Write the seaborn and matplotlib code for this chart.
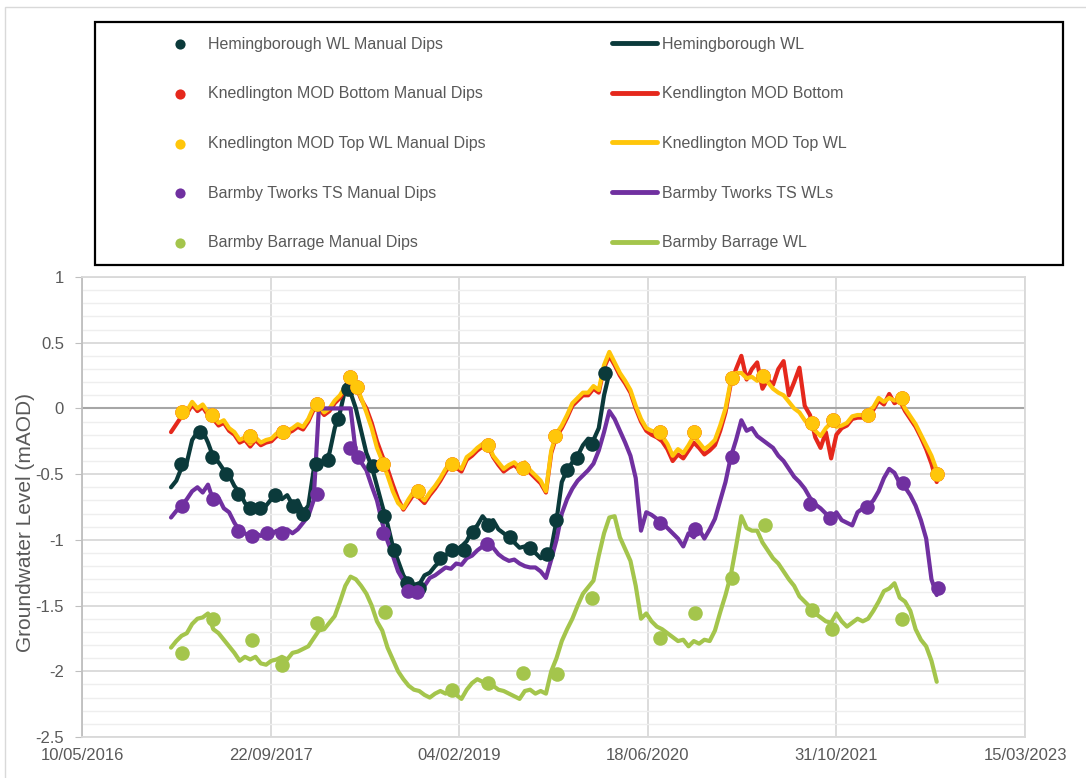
"""
Níveis de água subterrânea (mAOD) - séries contínuas e medições manuais.
Salva o gráfico em out.png
"""

import pandas as pd
import matplotlib
matplotlib.use("Agg")
import matplotlib.pyplot as plt
import matplotlib.dates as mdates
from matplotlib.ticker import MultipleLocator, FuncFormatter
from matplotlib.patches import Rectangle
import seaborn as sns

# Séries contínuas: uma leitura a cada 14 dias a partir de 01/01/2017
inicio = "2017-01-01"
passo = "14D"

hem_wl = [
    -0.60, -0.55, -0.45, -0.41, -0.24, -0.18, -0.17, -0.26, -0.37, -0.41,
    -0.47, -0.51, -0.59, -0.64, -0.72, -0.76, -0.74, -0.78, -0.74, -0.69,
    -0.65, -0.69, -0.66, -0.73, -0.70, -0.79, -0.74, -0.47, -0.41, -0.40,
    -0.34, -0.15, -0.03, 0.15, 0.12, 0.00, -0.17, -0.34, -0.44, -0.59,
    -0.74, -0.88, -1.05, -1.16, -1.27, -1.33, -1.34, -1.34, -1.27, -1.25,
    -1.20, -1.16, -1.12, -1.07, -1.08, -1.05, -1.01, -0.93, -0.89, -0.82,
    -0.87, -0.85, -0.92, -0.95, -0.98, -1.02, -1.06, -1.05, -1.08, -1.10,
    -1.14, -1.12, -1.07, -0.85, -0.56, -0.47, -0.41, -0.36, -0.28, -0.23,
    -0.24, -0.15, 0.10, 0.27,
]

kb_wl = [
    -0.18, -0.12, -0.06, -0.04, 0.03, -0.02, 0.01, -0.05, -0.08, -0.13,
    -0.11, -0.17, -0.20, -0.26, -0.24, -0.29, -0.24, -0.28, -0.26, -0.25,
    -0.21, -0.21, -0.19, -0.17, -0.14, -0.16, -0.10, -0.01, 0.00, -0.05,
    -0.02, 0.04, 0.08, 0.15, 0.21, 0.17, 0.07, 0.00, -0.11, -0.25,
    -0.36, -0.46, -0.58, -0.69, -0.77, -0.71, -0.65, -0.68, -0.72, -0.66,
    -0.61, -0.55, -0.48, -0.43, -0.45, -0.48, -0.39, -0.36, -0.32, -0.29,
    -0.28, -0.37, -0.43, -0.48, -0.45, -0.43, -0.47, -0.43, -0.49, -0.53,
    -0.57, -0.64, -0.34, -0.21, -0.15, -0.07, 0.02, 0.06, 0.10, 0.10,
    0.15, 0.12, 0.31, 0.40, 0.33, 0.25, 0.19, 0.12, 0.00, -0.10,
    -0.17, -0.20, -0.22, -0.25, -0.31, -0.40, -0.35, -0.38, -0.32, -0.26,
    -0.30, -0.35, -0.32, -0.28, -0.17, -0.03, 0.19, 0.30, 0.40, 0.22,
    0.30, 0.35, 0.15, 0.22, 0.18, 0.30, 0.36, 0.10, 0.20, 0.31,
    0.02, -0.05, -0.22, -0.30, -0.18, -0.38, -0.20, -0.15, -0.13, -0.08,
    -0.07, -0.07, -0.04, -0.01, 0.06, 0.03, 0.11, 0.04, 0.06, -0.02,
    -0.08, -0.14, -0.22, -0.31, -0.42, -0.56,
]

kt_wl = [
    None, None, -0.03, -0.02, 0.05, 0.00, 0.03, -0.03, -0.06, -0.11,
    -0.09, -0.15, -0.18, -0.24, -0.22, -0.27, -0.22, -0.26, -0.24, -0.23,
    -0.19, -0.19, -0.17, -0.15, -0.12, -0.14, -0.08, 0.01, 0.02, -0.03,
    0.00, 0.06, 0.10, 0.17, 0.23, 0.18, 0.08, -0.03, -0.15, -0.30,
    -0.40, -0.51, -0.63, -0.72, -0.76, -0.69, -0.63, -0.66, -0.70, -0.64,
    -0.59, -0.53, -0.46, -0.41, -0.43, -0.46, -0.37, -0.34, -0.30, -0.27,
    -0.26, -0.36, -0.41, -0.46, -0.43, -0.41, -0.45, -0.41, -0.47, -0.51,
    -0.55, -0.63, -0.32, -0.19, -0.13, -0.05, 0.04, 0.08, 0.12, 0.12,
    0.17, 0.14, 0.33, 0.43, 0.35, 0.27, 0.21, 0.14, 0.02, -0.08,
    -0.15, -0.17, -0.18, -0.21, -0.27, -0.36, -0.31, -0.34, -0.28, -0.21,
    -0.26, -0.31, -0.28, -0.24, -0.13, 0.00, 0.21, 0.27, 0.27, 0.23,
    0.24, 0.21, 0.27, 0.20, 0.15, 0.12, 0.10, 0.05, 0.00, -0.03,
    -0.09, -0.14, -0.17, -0.21, -0.15, -0.11, -0.14, -0.13, -0.11, -0.06,
    -0.05, -0.05, -0.02, 0.01, 0.08, 0.05, 0.08, 0.06, 0.08, 0.00,
    -0.06, -0.12, -0.20, -0.28, -0.36, -0.47,
]

bt_wl = [
    -0.83, -0.78, -0.74, -0.69, -0.63, -0.60, -0.64, -0.58, -0.70, -0.68,
    -0.76, -0.79, -0.87, -0.93, -0.95, -0.98, -0.95, -0.97, -0.95, -0.96,
    -0.93, -0.95, -0.92, -0.95, -0.92, -0.87, -0.82, -0.70, 0.00, 0.00,
    0.00, 0.00, 0.00, 0.00, 0.00, -0.34, -0.41, -0.47, -0.59, -0.70,
    -0.87, -1.01, -1.12, -1.24, -1.31, -1.37, -1.40, -1.39, -1.35, -1.29,
    -1.27, -1.24, -1.21, -1.22, -1.18, -1.19, -1.14, -1.12, -1.08, -1.05,
    -1.01, -1.06, -1.11, -1.14, -1.16, -1.15, -1.18, -1.20, -1.21, -1.21,
    -1.24, -1.29, -1.15, -1.00, -0.80, -0.69, -0.61, -0.55, -0.51, -0.47,
    -0.42, -0.32, -0.18, -0.02, -0.08, -0.17, -0.26, -0.36, -0.53, -0.93,
    -0.79, -0.81, -0.84, -0.87, -0.91, -0.95, -0.99, -1.05, -0.95, -0.98,
    -0.92, -0.99, -0.92, -0.84, -0.70, -0.56, -0.37, -0.24, -0.09, -0.17,
    -0.15, -0.21, -0.24, -0.27, -0.30, -0.36, -0.40, -0.46, -0.52, -0.56,
    -0.61, -0.68, -0.73, -0.76, -0.80, -0.84, -0.79, -0.85, -0.87, -0.89,
    -0.79, -0.76, -0.74, -0.70, -0.63, -0.53, -0.46, -0.49, -0.57, -0.60,
    -0.66, -0.74, -0.85, -0.99, -1.30, -1.42,
]

bb_wl = [
    -1.82, -1.77, -1.73, -1.71, -1.64, -1.60, -1.59, -1.56, -1.68, -1.71,
    -1.76, -1.81, -1.86, -1.92, -1.89, -1.91, -1.89, -1.94, -1.95, -1.92,
    -1.91, -1.89, -1.91, -1.86, -1.85, -1.83, -1.81, -1.75, -1.69, -1.68,
    -1.63, -1.58, -1.47, -1.35, -1.28, -1.30, -1.35, -1.41, -1.50, -1.62,
    -1.69, -1.82, -1.91, -2.00, -2.06, -2.11, -2.14, -2.15, -2.18, -2.20,
    -2.17, -2.15, -2.17, -2.14, -2.18, -2.21, -2.14, -2.09, -2.06, -2.08,
    -2.10, -2.11, -2.14, -2.15, -2.17, -2.19, -2.21, -2.15, -2.14, -2.17,
    -2.15, -2.17, -2.00, -1.90, -1.77, -1.68, -1.60, -1.50, -1.41, -1.36,
    -1.31, -1.12, -0.95, -0.83, -0.82, -0.98, -1.07, -1.16, -1.35, -1.60,
    -1.56, -1.62, -1.66, -1.68, -1.71, -1.74, -1.77, -1.76, -1.81, -1.77,
    -1.79, -1.76, -1.77, -1.69, -1.55, -1.42, -1.27, -1.05, -0.82, -0.91,
    -0.93, -0.93, -1.02, -1.08, -1.14, -1.18, -1.24, -1.30, -1.35, -1.43,
    -1.47, -1.51, -1.56, -1.59, -1.62, -1.63, -1.56, -1.62, -1.66, -1.63,
    -1.60, -1.62, -1.60, -1.54, -1.47, -1.39, -1.37, -1.33, -1.44, -1.47,
    -1.54, -1.68, -1.76, -1.81, -1.92, -2.08,
]

# Medições manuais (dips)
hem_dip_datas = [
    "2017-01-27", "2017-03-19", "2017-04-20", "2017-05-27", "2017-06-28",
    "2017-07-29", "2017-08-25", "2017-10-04", "2017-11-20", "2017-12-17",
    "2018-01-20", "2018-02-21", "2018-03-20", "2018-04-15", "2018-06-20",
    "2018-07-20", "2018-08-15", "2018-09-19", "2018-10-20", "2018-12-15",
    "2019-01-16", "2019-02-17", "2019-03-13", "2019-04-21", "2019-06-19",
    "2019-08-11", "2019-09-25", "2019-10-19", "2019-11-17", "2019-12-13",
    "2020-01-22", "2020-02-25",
]
hem_dip = [
    -0.42, -0.18, -0.37, -0.50, -0.65, -0.76, -0.76, -0.66, -0.74, -0.80,
    -0.42, -0.39, -0.08, 0.15, -0.44, -0.82, -1.08, -1.33, -1.37, -1.14,
    -1.08, -1.08, -0.94, -0.89, -0.98, -1.06, -1.11, -0.85, -0.47, -0.38,
    -0.27, 0.27,
]

kt_dip_datas = [
    "2017-01-30", "2017-04-20", "2017-07-29", "2017-10-25", "2018-01-23",
    "2018-04-21", "2018-05-09", "2018-07-17", "2018-10-18", "2019-01-16",
    "2019-04-21", "2019-07-23", "2019-10-16", "2020-07-20", "2020-10-18",
    "2021-01-27", "2021-04-19", "2021-08-27", "2021-10-22", "2022-01-23",
    "2022-04-23", "2022-07-25",
]
kt_dip = [
    -0.03, -0.05, -0.21, -0.18, 0.03, 0.24, 0.16, -0.42, -0.63, -0.42,
    -0.28, -0.45, -0.21, -0.18, -0.18, 0.23, 0.25, -0.11, -0.09, -0.05,
    0.08, -0.50,
]
# os dips do MOD Bottom ficam escondidos sob os do MOD Top
kb_dip_datas = kt_dip_datas
kb_dip = kt_dip

bt_dip_datas = [
    "2017-01-30", "2017-04-22", "2017-06-28", "2017-08-04", "2017-09-12",
    "2017-10-22", "2018-01-23", "2018-04-21", "2018-05-12", "2018-07-17",
    "2018-09-21", "2018-10-15", "2019-04-19", "2020-07-20", "2020-10-21",
    "2021-01-27", "2021-08-22", "2021-10-14", "2022-01-20", "2022-04-25",
    "2022-07-27",
]
bt_dip = [
    -0.74, -0.69, -0.93, -0.97, -0.95, -0.95, -0.65, -0.30, -0.37, -0.95,
    -1.39, -1.40, -1.03, -0.87, -0.92, -0.37, -0.73, -0.83, -0.75, -0.57,
    -1.37,
]

bb_dip_datas = [
    "2017-01-30", "2017-04-22", "2017-08-04", "2017-10-22", "2018-01-23",
    "2018-04-21", "2018-07-22", "2019-01-16", "2019-04-21", "2019-07-23",
    "2019-10-21", "2020-01-22", "2020-07-20", "2020-10-21", "2021-01-27",
    "2021-04-25", "2021-08-27", "2021-10-19", "2022-04-23",
]
bb_dip = [
    -1.86, -1.60, -1.76, -1.95, -1.63, -1.08, -1.55, -2.14, -2.09, -2.01,
    -2.02, -1.44, -1.75, -1.56, -1.29, -0.89, -1.53, -1.68, -1.60,
]

datas_eixo = ["2016-05-10", "2017-09-22", "2019-02-04", "2020-06-18", "2021-10-31", "2023-03-15"]

# Cores das estações
c_hem = "#0b3a3b"
c_kb = "#e5281c"
c_kt = "#ffc60a"
c_bt = "#7030a0"
c_bb = "#a4c54c"

sns.set_style("white")
plt.rcParams["font.family"] = ["Liberation Sans", "DejaVu Sans"]

fig = plt.figure(figsize=(10.86, 7.78), dpi=100)
ax = fig.add_axes([82 / 1086, 41 / 778, 943 / 1086, 460 / 778])


def serie(valores):
    return pd.DataFrame({
        "data": pd.date_range(inicio, periods=len(valores), freq=passo),
        "nivel": pd.to_numeric(pd.Series(valores, dtype="float")),
    })


linhas = [
    (hem_wl, "Hemingborough WL", c_hem),
    (kb_wl, "Kendlington MOD Bottom", c_kb),
    (kt_wl, "Knedlington MOD Top WL", c_kt),
    (bt_wl, "Barmby Tworks TS WLs", c_bt),
    (bb_wl, "Barmby Barrage WL", c_bb),
]
for valores, nome, cor in linhas:
    sns.lineplot(data=serie(valores), x="data", y="nivel", color=cor, linewidth=3.0,
                 label=nome, estimator=None, ax=ax, zorder=2)

pontos = [
    (hem_dip_datas, hem_dip, "Hemingborough WL Manual Dips", c_hem),
    (kb_dip_datas, kb_dip, "Knedlington MOD Bottom Manual Dips", c_kb),
    (kt_dip_datas, kt_dip, "Knedlington MOD Top WL Manual Dips", c_kt),
    (bt_dip_datas, bt_dip, "Barmby Tworks TS Manual Dips", c_bt),
    (bb_dip_datas, bb_dip, "Barmby Barrage Manual Dips", c_bb),
]
for datas, valores, nome, cor in pontos:
    sns.scatterplot(x=pd.to_datetime(datas), y=valores, color=cor, s=110, linewidth=0,
                    label=nome, ax=ax, zorder=3)

handles, labels = ax.get_legend_handles_labels()
ax.get_legend().remove()
mapa = dict(zip(labels, handles))

# Eixos
ax.set_xlim(mdates.date2num(pd.Timestamp("2016-05-10")), mdates.date2num(pd.Timestamp("2023-03-15")))
ax.set_ylim(-2.5, 1)
ax.set_xticks(mdates.date2num(pd.to_datetime(datas_eixo)))
ax.xaxis.set_major_formatter(mdates.DateFormatter("%d/%m/%Y"))
ax.yaxis.set_major_locator(MultipleLocator(0.5))
ax.yaxis.set_minor_locator(MultipleLocator(0.1))
ax.yaxis.set_major_formatter(FuncFormatter(lambda v, p: f"{v:g}"))

ax.set_axisbelow(True)
ax.grid(which="major", color="#d9d9d9", linewidth=1.3)
ax.grid(which="minor", axis="y", color="#eeeeee", linewidth=1.0)
ax.axhline(0, color="#a6a6a6", linewidth=1.5, zorder=1)

for lado in ax.spines:
    ax.spines[lado].set_color("#d9d9d9")
    ax.spines[lado].set_linewidth(1.3)
ax.spines["left"].set_color("#bfbfbf")

ax.tick_params(axis="y", which="major", left=True, length=5, color="#bfbfbf",
               labelsize=12, labelcolor="#595959", pad=8)
ax.tick_params(axis="y", which="minor", length=0)
ax.tick_params(axis="x", length=0, labelsize=12, labelcolor="#595959", pad=8)

ax.set_xlabel("")
ax.set_ylabel("Groundwater Level (mAOD)", fontsize=15, color="#595959")
ax.yaxis.set_label_coords(-0.05, 0.467)

# Legenda em duas colunas dentro de uma caixa
comum = dict(loc="center left", frameon=False, fontsize=11.5, labelcolor="#595959",
             handlelength=2.8, handletextpad=0.3, labelspacing=2.17, borderpad=0,
             bbox_transform=fig.transFigure)
nomes_dip = [p[2] for p in pontos]
nomes_linha = [l[1] for l in linhas]
fig.legend([mapa[n] for n in nomes_dip], nomes_dip, bbox_to_anchor=(150 / 1086, 1 - 143.5 / 778),
           markerscale=0.7, **comum)
leg2 = fig.legend([mapa[n] for n in nomes_linha], nomes_linha, bbox_to_anchor=(604 / 1086, 1 - 143.5 / 778),
                  **comum)
for linha in leg2.get_lines():
    linha.set_linewidth(3.5)
fig.add_artist(Rectangle((95 / 1086, 1 - 265 / 778), 968 / 1086, 243 / 778,
                         transform=fig.transFigure, fill=False, edgecolor="black", linewidth=1.6))
fig.add_artist(Rectangle((5 / 1086, -0.05), 1.1, 1.041, transform=fig.transFigure,
                         fill=False, edgecolor="#d9d9d9", linewidth=1.0))

fig.savefig("out.png", dpi=100)
